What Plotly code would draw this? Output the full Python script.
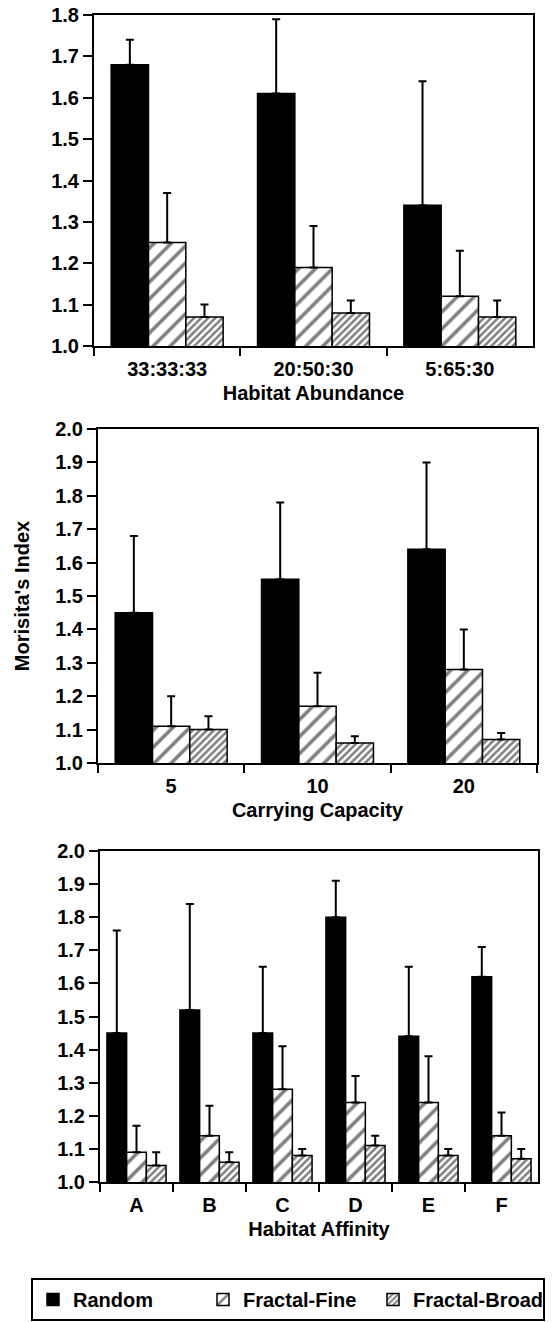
import plotly.graph_objects as go

# ---------------- data ----------------
series_names = ["Random", "Fractal-Fine", "Fractal-Broad"]

abund_cats = ["33:33:33", "20:50:30", "5:65:30"]
abund_random = [1.68, 1.61, 1.34]
abund_random_err = [0.06, 0.18, 0.30]
abund_fine = [1.25, 1.19, 1.12]
abund_fine_err = [0.12, 0.10, 0.11]
abund_broad = [1.07, 1.08, 1.07]
abund_broad_err = [0.03, 0.03, 0.04]

capac_cats = ["5", "10", "20"]
capac_random = [1.45, 1.55, 1.64]
capac_random_err = [0.23, 0.23, 0.26]
capac_fine = [1.11, 1.17, 1.28]
capac_fine_err = [0.09, 0.10, 0.12]
capac_broad = [1.10, 1.06, 1.07]
capac_broad_err = [0.04, 0.02, 0.02]

affin_cats = ["A", "B", "C", "D", "E", "F"]
affin_random = [1.45, 1.52, 1.45, 1.80, 1.44, 1.62]
affin_random_err = [0.31, 0.32, 0.20, 0.11, 0.21, 0.09]
affin_fine = [1.09, 1.14, 1.28, 1.24, 1.24, 1.14]
affin_fine_err = [0.08, 0.09, 0.13, 0.08, 0.14, 0.07]
affin_broad = [1.05, 1.06, 1.08, 1.11, 1.08, 1.07]
affin_broad_err = [0.04, 0.03, 0.02, 0.03, 0.02, 0.03]

x_titles = ["<b>Habitat Abundance</b>", "<b>Carrying Capacity</b>", "<b>Habitat Affinity</b>"]
y_title = "<b>Morisita's Index</b>"

# ---------------- layout constants (pixels) ----------------
W, H = 555, 1322
FONT = "Liberation Sans Bold, Liberation Sans, Arial, Helvetica, sans-serif"
FS = 20

panels_px = [  # x0, x1, ytop, ybottom
    (94, 533, 15, 346),
    (98, 537, 429, 763),
    (100, 538, 851, 1182),
]
yranges = [[1.0, 1.8], [1.0, 2.0], [1.0, 2.0]]
bar_w = [0.255, 0.255, 0.27]

styles = [
    dict(color="black", pattern=None),
    dict(color="white", pattern=dict(shape="/", size=12, solidity=0.3, fgcolor="black", bgcolor="white")),
    dict(color="white", pattern=dict(shape="/", size=5, solidity=0.5, fgcolor="black", bgcolor="white")),
]

panels = [
    (abund_cats, [(abund_random, abund_random_err), (abund_fine, abund_fine_err), (abund_broad, abund_broad_err)]),
    (capac_cats, [(capac_random, capac_random_err), (capac_fine, capac_fine_err), (capac_broad, capac_broad_err)]),
    (affin_cats, [(affin_random, affin_random_err), (affin_fine, affin_fine_err), (affin_broad, affin_broad_err)]),
]

fig = go.Figure()

for p, (cats, sers) in enumerate(panels):
    xa = "x" if p == 0 else f"x{p+1}"
    ya = "y" if p == 0 else f"y{p+1}"
    w = bar_w[p]
    for s, (vals, errs) in enumerate(sers):
        st = styles[s]
        marker = dict(color=st["color"], line=dict(color="black", width=1.5))
        if st["pattern"] is not None:
            marker["pattern"] = st["pattern"]
        fig.add_trace(go.Bar(
            x=cats, y=vals, name=f"<b>{series_names[s]}</b>",
            xaxis=xa, yaxis=ya,
            width=w, offset=(s - 1.5) * w,
            marker=marker,
            error_y=dict(type="data", array=errs, arrayminus=[0] * len(errs),
                         symmetric=False, color="black", thickness=2, width=4),
            showlegend=(p == 0),
        ))

layout = dict(
    width=W, height=H,
    margin=dict(l=0, r=0, t=0, b=0, autoexpand=False),
    paper_bgcolor="white", plot_bgcolor="white",
    font=dict(family=FONT, size=FS, color="black"),
    barmode="overlay",
    showlegend=True,
    legend=dict(
        orientation="h", x=31 / W, y=1 - 1278 / H, xanchor="left", yanchor="top",
        bordercolor="black", borderwidth=2, font=dict(size=20, family=FONT),
        bgcolor="white", entrywidth=125, entrywidthmode="pixels",
    ),
)

for p, (x0, x1, yt, yb) in enumerate(panels_px):
    xk = "xaxis" if p == 0 else f"xaxis{p+1}"
    yk = "yaxis" if p == 0 else f"yaxis{p+1}"
    xa_anchor = "y" if p == 0 else f"y{p+1}"
    ya_anchor = "x" if p == 0 else f"x{p+1}"
    layout[xk] = dict(
        domain=[x0 / W, x1 / W], anchor=xa_anchor, type="category",
        showline=True, linecolor="black", linewidth=2, mirror=True,
        ticks="outside", ticklen=8, tickwidth=1.5, tickcolor="black",
        tickson="boundaries", showgrid=False, zeroline=False, automargin=False,
        ticklabelstandoff=4,
        title=dict(text=x_titles[p], standoff=7, font=dict(size=FS)),
        tickfont=dict(size=FS),
        tickprefix="<b>", ticksuffix="</b>",
    )
    layout[yk] = dict(
        domain=[1 - yb / H, 1 - yt / H], anchor=ya_anchor,
        range=yranges[p], dtick=0.1, tick0=1.0, tickformat=".1f",
        showline=True, linecolor="black", linewidth=2, mirror=True,
        ticks="outside", ticklen=9, tickwidth=1.5, tickcolor="black",
        showgrid=False, zeroline=False, automargin=False,
        tickfont=dict(size=FS),
        tickprefix="<b>", ticksuffix="</b>",
    )
layout["yaxis2"]["title"] = dict(text=y_title, standoff=20, font=dict(size=20))

fig.update_layout(**layout)
fig.write_html(
    "out.html",
    config={"displayModeBar": False},
    post_script="document.body.style.margin='0';document.body.style.overflow='hidden';",
)
